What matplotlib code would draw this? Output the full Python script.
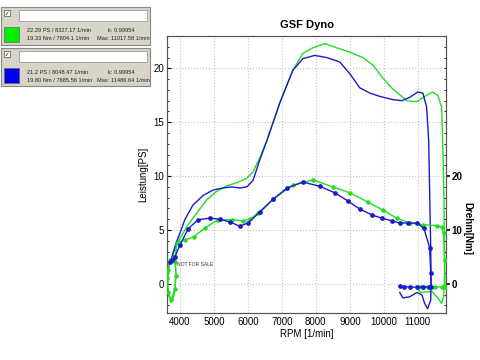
import matplotlib
matplotlib.use("Agg")
import matplotlib.pyplot as plt
from matplotlib.patches import Rectangle
from matplotlib.ticker import MultipleLocator

plt.rcParams['font.family'] = ['Liberation Sans', 'DejaVu Sans']

# ---------------- data ----------------
blue_p_rpm = [3720, 3800, 3900, 4000, 4150, 4380, 4680, 4970, 5260, 5530, 5760, 5970, 6150, 6350,
              6560, 6940, 7320, 7620, 7970, 8320, 8700, 9000, 9290, 9590, 9880, 10260, 10530,
              10760, 11000, 11150, 11260, 11320, 11350, 11380, 11390, 11380, 11290, 11200, 11120,
              10970, 10760, 10560, 10470]
blue_p = [2.0, 2.9, 3.9, 4.7, 6.0, 7.3, 8.2, 8.7, 8.9, 9.0, 8.9, 9.0, 9.6, 11.5,
          13.3, 16.8, 19.8, 20.9, 21.2, 21.0, 20.6, 19.5, 18.2, 17.7, 17.4, 17.1, 17.0,
          17.3, 17.8, 17.7, 16.4, 13.3, 8.4, 3.4, 0.4, -1.5, -2.3, -1.8, -1.0,
          -0.8, -1.2, -1.3, -0.8]

blue_t_rpm = [3720, 3760, 3850, 4000, 4240, 4530, 4880, 5180, 5470, 5760, 6000, 6350, 6740, 7150,
              7620, 8120, 8560, 8940, 9290, 9650, 9940, 10240, 10470, 10710, 10970, 11180, 11350,
              11380, 11400, 11330, 11150, 10970, 10780, 10600, 10470]
blue_t = [4.0, 4.4, 5.0, 7.2, 10.2, 11.9, 12.2, 12.0, 11.5, 10.7, 11.3, 13.3, 15.7, 17.8,
          18.9, 18.1, 16.9, 15.4, 13.9, 12.8, 12.2, 11.7, 11.3, 11.3, 11.3, 10.3, 6.7,
          2.0, -0.5, -0.6, -0.6, -0.6, -0.6, -0.5, -0.4]

green_p_rpm = [3720, 3660, 3640, 3680, 3740, 3800, 3860, 3880, 3860, 3800, 3900, 4000, 4200, 4500,
               4790, 5090, 5380, 5680, 5970, 6150, 6350, 6560, 6940, 7320, 7620, 7910, 8260, 8620,
               9000, 9380, 9680, 9970, 10260, 10680, 10970, 11260, 11440, 11590, 11700, 11730,
               11770, 11790, 11760, 11700, 11560, 11410, 11090, 11030]
green_p = [2.3, 1.0, -0.3, -1.2, -1.6, -1.4, -0.3, 1.0, 2.0, 2.7, 3.6, 4.2, 5.3, 6.6,
           7.8, 8.6, 9.1, 9.4, 9.8, 10.4, 11.7, 13.3, 16.8, 19.8, 21.4, 21.9, 22.3, 21.9,
           21.5, 21.0, 20.3, 19.1, 18.1, 17.0, 16.9, 17.5, 17.8, 17.5, 16.4, 13.6,
           8.0, 1.0, -1.2, -1.8, -1.2, -0.7, -0.8, -0.6]

green_t_rpm = [3700, 3640, 3620, 3660, 3740, 3850, 3880, 3870, 3900, 4150, 4400, 4740, 5120, 5530,
               5850, 6060, 6290, 6740, 7320, 7910, 8500, 9000, 9530, 9970, 10380, 10760, 11150,
               11560, 11700, 11760, 11790, 11800, 11700, 11500, 11300, 11060]
green_t = [4.4, 2.5, 1.1, -1.5, -3.0, -1.0, 1.5, 4.1, 7.6, 8.2, 8.7, 10.4, 11.9, 11.9,
           11.7, 12.0, 13.1, 15.7, 18.3, 19.3, 18.0, 16.9, 15.2, 13.7, 12.2, 11.3, 11.0,
           10.8, 10.6, 9.4, 4.4, -0.6, -0.6, -0.5, -0.5, -0.5]

x_ticks = [4000, 5000, 6000, 7000, 8000, 9000, 10000, 11000]
yl_ticks = [0, 5, 10, 15, 20]
yr_ticks = [0, 10, 20]

legend_rows = [
    ("22.29 PS / 8327.17 1/min", "k: 0.99954", "19.33 Nm / 7804.1 1/min", "Max: 11017.58 1/min", "#00ee00"),
    ("21.2 PS / 8048.47 1/min", "k: 0.99954", "19.80 Nm / 7685.56 1/min", "Max: 11486.64 1/min", "#0000ee"),
]

GREEN = "#22dd22"
BLUE = "#1a1acc"

W, H = 480, 360
fig = plt.figure(figsize=(4.8, 3.6), dpi=100)
fig.patch.set_facecolor("white")

def fx(x):
    return x / W

def fy(y):
    return 1 - y / H

ax = fig.add_axes([fx(167), fy(313), fx(446) - fx(167), fy(36) - fy(313)])
ax2 = ax.twinx()

ax.set_xlim(3620, 11830)
ax.set_ylim(-2.7, 23.0)
ax2.set_ylim(-5.4, 46.0)

ax.plot(green_p_rpm, green_p, color=GREEN, lw=1.0, zorder=3)
ax.plot(blue_p_rpm, blue_p, color=BLUE, lw=1.0, zorder=4)
ax2.plot(green_t_rpm, green_t, color=GREEN, lw=1.0, marker='o', ms=2.2, zorder=3)
ax2.plot(blue_t_rpm, blue_t, color=BLUE, lw=1.0, marker='o', ms=2.4, zorder=4)

ax.set_xticks(x_ticks)
ax.set_yticks(yl_ticks)
ax.yaxis.set_minor_locator(MultipleLocator(1))
ax.grid(True, which='major', color='#c4c4c4', linestyle=':', linewidth=0.8)
ax.tick_params(axis='both', which='major', labelsize=7, direction='in', length=3, pad=2)
ax.tick_params(axis='y', which='minor', direction='in', length=1.5)
ax.tick_params(axis='x', which='major', length=0, pad=3)
ax.set_xlabel("RPM [1/min]", fontsize=7, labelpad=1)
ax.set_ylabel("Leistung[PS]", fontsize=7, labelpad=4)
ax.set_title("GSF Dyno", fontsize=8, fontweight='bold', pad=6)

ax2.set_yticks(yr_ticks)
ax2.yaxis.set_minor_locator(MultipleLocator(2))
ax2.tick_params(axis='y', which='major', labelsize=7, direction='out', length=3, pad=1, width=1.2)
ax2.tick_params(axis='y', which='minor', direction='in', length=1.5)
for lab in ax2.get_yticklabels():
    lab.set_fontweight('bold')

for a in (ax, ax2):
    for s in a.spines.values():
        s.set_color('#555555')
        s.set_linewidth(0.8)

fig.text(fx(467), fy(228), "Drehm[Nm]", rotation=-90, fontsize=7, fontweight='bold',
         ha='center', va='center')

ax.text(0.037, 0.17, "NOT FOR SALE", transform=ax.transAxes, fontsize=3.6, color='#333333')

# -------- legend panels --------
panel_tops = [7, 48]
for (l1, k, l2, mx, col), top in zip(legend_rows, panel_tops):
    h = 38
    fig.patches.append(Rectangle((fx(1), fy(top + h)), fx(149), h / H, transform=fig.transFigure,
                                 facecolor='#d8d4c8', edgecolor='#888880', lw=0.8))
    fig.patches.append(Rectangle((fx(19), fy(top + 14)), fx(128), 11 / H, transform=fig.transFigure,
                                 facecolor='white', edgecolor='#999999', lw=0.6))
    fig.patches.append(Rectangle((fx(4), fy(top + 9)), fx(6), 6 / H, transform=fig.transFigure,
                                 facecolor='white', edgecolor='#555555', lw=0.5))
    fig.text(fx(4.5), fy(top + 6.5), "✓", fontsize=4, va='center', family=['DejaVu Sans'])
    fig.patches.append(Rectangle((fx(4), fy(top + 35)), fx(15), 15 / H, transform=fig.transFigure,
                                 facecolor=col, edgecolor='#666666', lw=0.5))
    fig.text(fx(27), fy(top + 24), l1, fontsize=4.1, va='center', color='#222222')
    fig.text(fx(108), fy(top + 24), k, fontsize=4.1, va='center', color='#222222')
    fig.text(fx(27), fy(top + 32), l2, fontsize=4.1, va='center', color='#222222')
    fig.text(fx(97), fy(top + 32), mx, fontsize=4.1, va='center', color='#222222')

fig.savefig("out.png", dpi=100)
